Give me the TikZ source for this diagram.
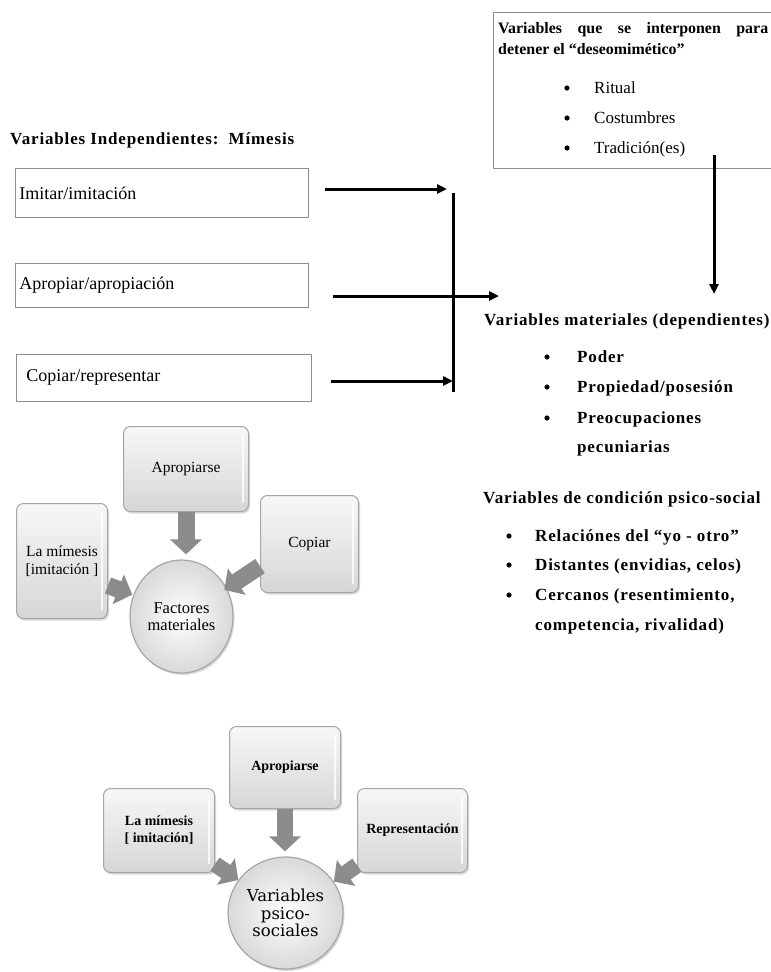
\documentclass[tikz,border=0pt]{standalone}
\usepackage{fontspec}
\setmainfont{Liberation Serif}
\newfontfamily\hdfont[LetterSpace=5]{Liberation Serif}
\newfontfamily\circfont{DejaVu Serif}
\usetikzlibrary{arrows.meta,shapes.geometric,shadows}

\tikzset{
  mimbox/.style={draw=black!45,line width=0.8pt,anchor=north west,inner xsep=3pt,
    font=\fontsize{18}{21}\selectfont},
  hd/.style={anchor=base west,inner sep=0pt,font=\hdfont\fontsize{17}{20}\selectfont\bfseries},
  txt/.style={anchor=base west,inner sep=0pt,font=\fontsize{17}{20}\selectfont},
  flecha/.style={line width=3pt,-{Triangle[length=10pt,width=9pt]}},
  art/.style={rounded corners=7pt,draw=black!35,line width=1pt,top color=gray!6,bottom color=gray!32,
    drop shadow={shadow xshift=1.5pt,shadow yshift=-2pt,opacity=0.3},align=center,anchor=north west},
  core/.style={ellipse,inner sep=0pt,draw=black!35,line width=1.2pt,inner color=white,outer color=gray!30,
    drop shadow={shadow xshift=1.5pt,shadow yshift=-2pt,opacity=0.3},align=center},
  gruesa/.style={line width=17pt,draw=black!45,-{Triangle[length=15pt,width=31pt]}}
}

\begin{document}
\begin{tikzpicture}[x=1pt,y=-1pt,line join=round]
\useasboundingbox (0,0) rectangle (771,972);

% variables que detienen el deseo
\node[draw=black!45,line width=0.8pt,anchor=north west,minimum width=290pt,minimum height=156pt] (deseo) at (493,12) {};
\node[anchor=base west,inner sep=0pt,font=\fontsize{15.9}{19}\selectfont\bfseries] (deseo1) at (498,33)
  {\makebox[270pt][s]{Variables que se interponen para}};
\node[anchor=base west,inner sep=0pt,font=\fontsize{15.9}{19}\selectfont\bfseries] (deseo2) at (498,54)
  {detener el “deseomimético”};
\foreach \t/\y [count=\i] in {Ritual/93,Costumbres/123,Tradición(es)/153} {
  \fill (567,\y-5) circle (2.6);
  \node[txt] (trad\i) at (594,\y) {\t};
}

% variables independientes
\node[hd] (indep) at (10,144) {Variables Independientes:\ \ Mímesis};
\node[mimbox,minimum width=293pt,minimum height=49pt,text width=285pt] (imitar) at (15,168) {Imitar/imitación};
\node[mimbox,minimum width=293pt,minimum height=44pt,text width=285pt] (apropiar) at (15,263) {Apropiar/apropiación};
\node[mimbox,minimum width=291pt,minimum height=47pt,text width=275pt,inner xsep=10pt] (copiar) at (16,354) {Copiar/representar};

\coordinate (a1) at (325,189); \coordinate (b1) at (447,189);
\coordinate (a2) at (333,296); \coordinate (b2) at (499,296);
\coordinate (a3) at (331,381); \coordinate (b3) at (453,381);
\coordinate (bartop) at (453,193); \coordinate (barbot) at (453,392);
\coordinate (d1) at (714,155); \coordinate (d2) at (714,294);
\draw[flecha] (a1) -- (b1);
\draw[flecha] (a2) -- (b2);
\draw[flecha] (a3) -- (b3);
\draw[line width=3pt] (bartop) -- (barbot);
\draw[flecha] (d1) -- (d2);

% variables dependientes
\node[hd] (mat) at (484,325) {Variables materiales (dependientes)};
\foreach \t/\y [count=\i] in {Poder/362,{Propiedad/posesión}/392,Preocupaciones/423} {
  \fill (547,\y-5) circle (2.6);
  \node[hd] (mat\i) at (577,\y) {\t};
}
\node[hd] (mat4) at (577,452) {pecuniarias};

\node[hd] (psico) at (483,503) {Variables de condición psico-social};
\foreach \t/\y [count=\i] in {Relaciónes del “yo - otro”/541,{Distantes (envidias, celos)}/570,{Cercanos (resentimiento,}/600} {
  \fill (509,\y-5) circle (2.6);
  \node[hd] (psico\i) at (535,\y) {\t};
}
\node[hd] (psico4) at (535,630) {competencia, rivalidad)};

% factores materiales
\begin{scope}[font=\fontsize{15.5}{19}\selectfont]
\node[art,minimum width=125pt,minimum height=85pt] (apr1) at (123,426) {Apropiarse};
\node[art,minimum width=91pt,minimum height=115pt] (mim1) at (16,503) {La mímesis\\[-1pt][imitación ]};
\node[art,minimum width=98pt,minimum height=97pt] (cop1) at (260,495) {Copiar};
\node[core,minimum width=103pt,minimum height=113pt,font=\fontsize{16.5}{19}\selectfont] (fac1) at (181.5,616.5) {Factores\\[-2pt]materiales};
\end{scope}
\draw[gruesa,shorten >=5pt] (apr1.south) -- (apr1.south |- fac1.north);
\draw[gruesa,shorten >=1pt] (mim1.-28) -- (fac1.156);
\draw[gruesa,shorten >=-3pt] (cop1.204) -- (fac1.32);

% variables psico-sociales
\begin{scope}[font=\fontsize{14}{18}\selectfont\bfseries]
\node[art,minimum width=111pt,minimum height=82pt] (apr2) at (229,726) {Apropiarse};
\node[art,minimum width=111pt,minimum height=84pt] (mim2) at (103,788) {La mímesis\\[-1pt][ imitación]};
\node[art,minimum width=110pt,minimum height=84pt] (rep2) at (357,788) {Representación};
\end{scope}
\node[core,minimum width=115pt,minimum height=112pt,font=\circfont\fontsize{16.5}{17.5}\selectfont] (var2) at (285.5,913) {Variables\\psico-\\sociales};
\draw[gruesa,line width=16pt,shorten >=5pt] (apr2.south) -- (apr2.south |- var2.north);
\draw[gruesa,line width=16pt] (mim2.-31) -- (var2.145);
\draw[gruesa,line width=16pt] (rep2.212) -- (var2.33);

\foreach \n in {apr1,mim1,cop1,apr2,mim2,rep2}
  \draw[white,line width=1.5pt,opacity=0.8] ([xshift=-6pt,yshift=-9pt]\n.north east) -- ([xshift=-6pt,yshift=9pt]\n.south east);
\end{tikzpicture}
\end{document}
